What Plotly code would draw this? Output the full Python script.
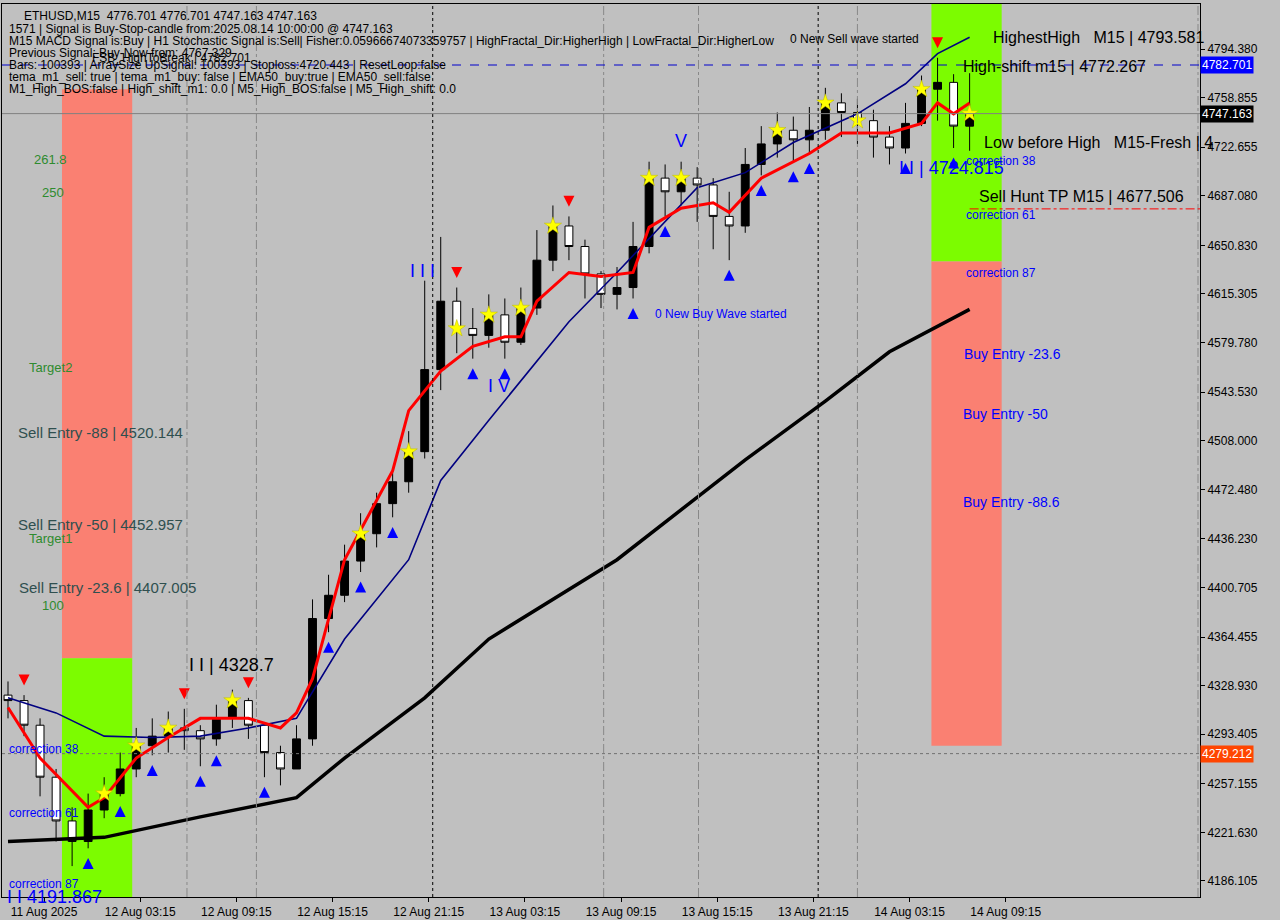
import pandas as pd
import plotly.graph_objects as go

# hourly candles starting 11 Aug 19:00
start_time = "2025-08-11 19:00"
closes = [4318, 4300, 4262, 4230, 4215, 4238, 4250, 4268, 4285, 4292,
          4298, 4296, 4290, 4305, 4318, 4300, 4280, 4268, 4290, 4378,
          4395, 4420, 4440, 4462, 4478, 4500, 4560, 4610, 4590, 4585,
          4600, 4580, 4605, 4640, 4665, 4650, 4630, 4615, 4620, 4650,
          4700, 4690, 4700, 4695, 4672, 4665, 4710, 4725, 4735, 4728,
          4735, 4755, 4748, 4742, 4730, 4722, 4740, 4765, 4770, 4738, 4747.163]
highs = [4332, 4322, 4305, 4268, 4240, 4250, 4262, 4280, 4298, 4305,
         4310, 4312, 4300, 4315, 4326, 4320, 4302, 4285, 4300, 4392,
         4410, 4432, 4455, 4470, 4488, 4515, 4625, 4657, 4620, 4605,
         4615, 4612, 4620, 4662, 4680, 4672, 4655, 4632, 4635, 4668,
         4712, 4710, 4712, 4708, 4700, 4690, 4722, 4738, 4748, 4745,
         4752, 4766, 4762, 4758, 4750, 4738, 4755, 4775, 4788, 4776, 4776.7]
lows = [4305, 4292, 4248, 4215, 4197, 4210, 4232, 4248, 4262, 4278,
        4280, 4282, 4270, 4285, 4298, 4290, 4262, 4256, 4268, 4285,
        4368, 4390, 4412, 4430, 4452, 4470, 4495, 4545, 4572, 4568,
        4576, 4568, 4578, 4600, 4632, 4640, 4612, 4605, 4604, 4612,
        4645, 4672, 4680, 4668, 4648, 4640, 4660, 4702, 4715, 4712,
        4718, 4728, 4730, 4725, 4715, 4710, 4718, 4738, 4742, 4722, 4720]
first_open = 4322

# moving averages: (candle index, price)
ema_red_idx = [0, 2, 5, 6, 8, 10, 12, 15, 17, 18, 19, 21, 24, 25, 27, 29, 31, 32, 33, 35,
               37, 39, 40, 42, 44, 45, 47, 50, 52, 55, 57, 58, 59, 60]
ema_red_val = [4313, 4276, 4240, 4247, 4276, 4291, 4305, 4305, 4298, 4309, 4334, 4421, 4486,
               4530, 4559, 4577, 4584, 4584, 4610, 4631, 4628, 4631, 4664, 4678, 4682, 4675,
               4700, 4718, 4733, 4733, 4740, 4755, 4747, 4755]
ema_navy_idx = [0, 3, 6, 9, 12, 15, 18, 21, 25, 27, 30, 32, 35, 38, 41, 43, 46, 49, 53, 56, 58, 60]
ema_navy_val = [4320, 4309, 4292, 4291, 4292, 4298, 4305, 4363, 4421, 4479, 4523, 4552, 4595,
                4631, 4668, 4693, 4704, 4726, 4747, 4769, 4791, 4803]
ma_black_idx = [0, 6, 12, 18, 21, 26, 30, 38, 46, 51, 55, 60]
ma_black_val = [4215, 4218, 4233, 4247, 4276, 4320, 4363, 4421, 4494, 4537, 4573, 4604]

buy_arrow_idx = [5, 7, 9, 12, 13, 16, 20, 22, 24, 29, 31, 39, 41, 45, 47, 49, 50, 56, 59]
sell_arrow_idx = [1, 11, 15, 28, 35, 58]
star_idx = [6, 8, 10, 14, 22, 25, 28, 30, 32, 34, 40, 42, 48, 51, 53, 57, 60]

price_ticks = [4794.380, 4758.855, 4722.655, 4687.080, 4650.830, 4615.305, 4579.780, 4543.530,
               4508.000, 4472.480, 4436.230, 4400.705, 4364.455, 4328.930, 4293.405, 4257.155,
               4221.630, 4186.105]
date_tick_vals = ["2025-08-11 21:15", "2025-08-12 03:15", "2025-08-12 09:15", "2025-08-12 15:15",
                  "2025-08-12 21:15", "2025-08-13 03:15", "2025-08-13 09:15", "2025-08-13 15:15",
                  "2025-08-13 21:15", "2025-08-14 03:15", "2025-08-14 09:15"]
date_tick_text = ["11 Aug 2025", "12 Aug 03:15", "12 Aug 09:15", "12 Aug 15:15", "12 Aug 21:15",
                  "13 Aug 03:15", "13 Aug 09:15", "13 Aug 15:15", "13 Aug 21:15",
                  "14 Aug 03:15", "14 Aug 09:15"]

# zones: (start, end, low, high, color)
zones = [("2025-08-11 22:22", "2025-08-12 02:45", 4349, 4765, "#FA8072"),
         ("2025-08-11 22:22", "2025-08-12 02:45", 4150, 4349, "#7CFC00"),
         ("2025-08-14 04:37", "2025-08-14 09:00", 4639, 4850, "#7CFC00"),
         ("2025-08-14 04:37", "2025-08-14 09:00", 4285, 4639, "#FA8072")]
vlines_dotted = ["2025-08-12 21:30", "2025-08-13 21:33"]
vlines_dashdot = ["2025-08-12 06:10", "2025-08-12 10:30", "2025-08-13 08:10", "2025-08-13 14:05",
                  "2025-08-14 00:00", "2025-08-14 21:15"]

level_fsb = 4782.701
level_bid = 4747.163
level_low = 4279.212
level_tp = 4677.506

times = pd.date_range(start_time, periods=len(closes), freq="h")
opens = [first_open] + closes[:-1]
X0, X1 = "2025-08-11 18:37:30", "2025-08-14 21:22:30"
Y0, Y1 = 4174.4, 4827.3

fig = go.Figure()
fig.add_trace(go.Candlestick(
    x=times, open=opens, high=highs, low=lows, close=closes,
    increasing=dict(line=dict(color="black", width=1), fillcolor="black"),
    decreasing=dict(line=dict(color="black", width=1), fillcolor="white"),
    whiskerwidth=0, showlegend=False, hoverinfo="skip"))


def line(idx, val, color, width):
    fig.add_trace(go.Scatter(x=[times[i] for i in idx], y=val, mode="lines",
                             line=dict(color=color, width=width), showlegend=False, hoverinfo="skip"))


line(ma_black_idx, ma_black_val, "black", 3.5)
line(ema_navy_idx, ema_navy_val, "#000080", 1.6)
line(ema_red_idx, ema_red_val, "red", 3)

fig.add_trace(go.Scatter(x=[times[i] for i in buy_arrow_idx], y=[lows[i] - 7 for i in buy_arrow_idx],
                         mode="markers", marker=dict(symbol="arrow-up", size=11, color="#0000FF"),
                         showlegend=False, hoverinfo="skip"))
fig.add_trace(go.Scatter(x=[times[i] for i in sell_arrow_idx], y=[highs[i] + 7 for i in sell_arrow_idx],
                         mode="markers", marker=dict(symbol="arrow-down", size=11, color="red"),
                         showlegend=False, hoverinfo="skip"))
fig.add_trace(go.Scatter(x=[times[i] for i in star_idx], y=[closes[i] for i in star_idx],
                         mode="markers", marker=dict(symbol="star", size=13, color="yellow",
                                                     line=dict(color="#B8B800", width=0.5)),
                         showlegend=False, hoverinfo="skip"))

for x0, x1, lo, hi, col in zones:
    fig.add_shape(type="rect", x0=x0, x1=x1, y0=lo, y1=hi, fillcolor=col, line_width=0, layer="below")
for v in vlines_dotted:
    fig.add_shape(type="line", x0=v, x1=v, y0=0, y1=1, yref="paper", line=dict(color="black", width=1, dash="dot"))
for v in vlines_dashdot:
    fig.add_shape(type="line", x0=v, x1=v, y0=0, y1=1, yref="paper", line=dict(color="#888888", width=1, dash="dashdot"))

fig.add_shape(type="line", x0=0, x1=1, xref="paper", y0=level_fsb, y1=level_fsb, line=dict(color="#0000CC", width=1, dash="dash"))
fig.add_shape(type="line", x0=0, x1=1, xref="paper", y0=level_bid, y1=level_bid, line=dict(color="#808080", width=1))
fig.add_shape(type="line", x0=0, x1=1, xref="paper", y0=level_low, y1=level_low, line=dict(color="#707070", width=1, dash="dot"))
fig.add_shape(type="line", x0=times[-1], x1=X1, y0=level_tp, y1=level_tp, line=dict(color="red", width=1, dash="dashdot"))

FONT = "Liberation Sans, Arial, sans-serif"
W, H = 1196, 893


def txt(xpx, price, text, color="black", size=12):
    fig.add_annotation(x=xpx / W, xref="paper", y=price, yref="y", text=text, showarrow=False,
                       xanchor="left", yanchor="middle", font=dict(color=color, size=size, family=FONT))


def py(ypx):
    return Y1 - ypx * (Y1 - Y0) / H


green = "#2E8B2E"
slate = "#2F4F4F"
txt(30, py(155), "261.8", green, 13)
txt(38, py(188), "250", green, 13)
txt(25, py(363), "Target2", green, 13)
txt(14, py(428), "Sell Entry -88 | 4520.144", slate, 15)
txt(14, py(520), "Sell Entry -50 | 4452.957", slate, 15)
txt(25, py(534), "Target1", green, 13)
txt(15, py(583), "Sell Entry -23.6 | 4407.005", slate, 15)
txt(38, py(601), "100", green, 13)
txt(185, py(661), "I I | 4328.7", "black", 18)
txt(5, py(745), "correction 38", "#0000FF", 12)
txt(5, py(809), "correction 61", "#0000FF", 12)
txt(5, py(880), "correction 87", "#0000FF", 12)
txt(3, py(893), "I I 4191.867", "#0000FF", 18)
txt(405, py(267), "I I I", "#0000FF", 18)
txt(483, py(382), "I V", "#0000FF", 18)
txt(670, py(137), "V", "#0000FF", 18)
txt(650, py(310), "0 New Buy Wave started", "#0000FF", 12)
txt(785, py(35), "0 New Sell wave started", "black", 12)
txt(987, py(33), "HighestHigh   M15 | 4793.581", "black", 16)
txt(957, py(62), "High-shift m15 | 4772.267", "black", 16)
txt(978, py(138), "Low before High   M15-Fresh | 4", "black", 16)
txt(894, py(164), "I I | 4724.815", "#0000FF", 18)
txt(960, py(157), "correction 38", "#0000FF", 12)
txt(973, py(192), "Sell Hunt TP M15 | 4677.506", "black", 16)
txt(960, py(211), "correction 61", "#0000FF", 12)
txt(960, py(269), "correction 87", "#0000FF", 12)
txt(958, py(350), "Buy Entry -23.6", "#0000FF", 14)
txt(957, py(410), "Buy Entry -50", "#0000FF", 14)
txt(957, py(498), "Buy Entry -88.6", "#0000FF", 14)

header = [(20, 12, "ETHUSD,M15  4776.701 4776.701 4747.163 4747.163", "black"),
          (5, 25, "1571 | Signal is Buy-Stop-candle from:2025.08.14 10:00:00 @ 4747.163", "black"),
          (5, 37, "M15 MACD Signal is:Buy | H1 Stochastic Signal is:Sell| Fisher:0.05966674073359757 | HighFractal_Dir:HigherHigh | LowFractal_Dir:HigherLow", "black"),
          (5, 49, "Previous Signal: Buy-Now from: 4767.329", "black"),
          (88, 54, "FSB_HighToBreak | 4782.701", "black"),
          (5, 61, "Bars: 100393 | ArraySize UpSignal: 100393 | Stoploss:4720.443 | ResetLoop:false", "black"),
          (5, 73, "tema_m1_sell: true | tema_m1_buy: false | EMA50_buy:true | EMA50_sell:false", "black"),
          (5, 85, "M1_High_BOS:false | High_shift_m1: 0.0 | M5_High_BOS:false | M5_High_shift: 0.0", "black")]
for xpx, ypx, t, c in header:
    fig.add_annotation(x=xpx / W, xref="paper", y=1 - ypx / H, yref="paper", text=t, showarrow=False,
                       xanchor="left", yanchor="middle", font=dict(color=c, size=12, family=FONT))

for price, bg in [(level_fsb, "#0000FF"), (level_bid, "black"), (level_low, "#FF4500")]:
    fig.add_annotation(x=1.0, xref="paper", y=price, yref="y", text=f"{price:.3f}", showarrow=False,
                       xanchor="left", yanchor="middle", bgcolor=bg, borderpad=1,
                       font=dict(color="white", size=12, family=FONT))

fig.update_layout(
    width=1280, height=920, margin=dict(l=2, r=80, t=4, b=23),
    paper_bgcolor="#C0C0C0", plot_bgcolor="#C0C0C0",
    font=dict(family=FONT, color="black", size=12),
    showlegend=False,
    xaxis=dict(type="date", range=[X0, X1], rangeslider=dict(visible=False), showgrid=False,
               tickvals=date_tick_vals, ticktext=date_tick_text, ticks="outside", ticklen=4,
               tickcolor="black", showline=True, linecolor="black", mirror=True, zeroline=False),
    yaxis=dict(range=[Y0, Y1], side="right", showgrid=False, tickvals=price_ticks,
               ticktext=[f"{p:.3f}" for p in price_ticks], ticks="outside", ticklen=4,
               tickcolor="black", showline=True, linecolor="black", mirror=True, zeroline=False),
)

fig.write_html("out.html", config={"displayModeBar": False},
               post_script="document.body.style.margin='0';document.body.style.overflow='hidden';")
